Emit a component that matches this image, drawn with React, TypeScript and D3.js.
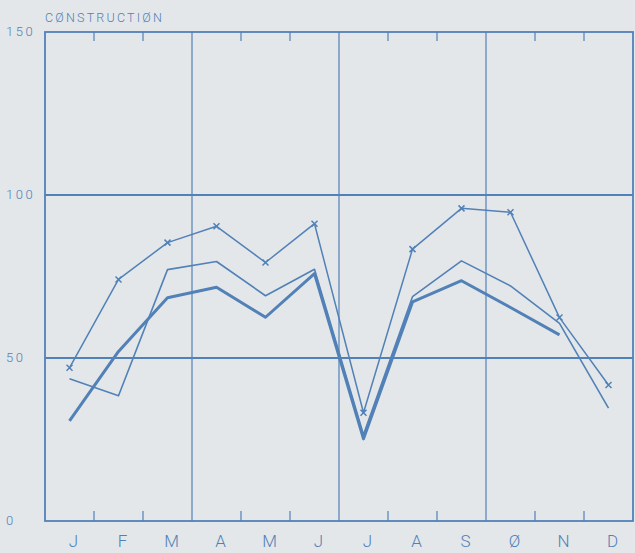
import React from "react";
import * as d3 from "d3";

const months = ["J", "F", "M", "A", "M", "J", "J", "A", "S", "Ø", "N", "D"];
const yTicks = [0, 50, 100, 150];
const seriesMarked = [47.0, 74.1, 85.4, 90.4, 79.3, 91.2, 33.2, 83.4, 95.9, 94.7, 62.4, 41.7];
const seriesThin = [43.6, 38.4, 77.1, 79.6, 69.1, 77.2, 26.5, 68.8, 79.8, 72.1, 60.6, 34.6];
const seriesThick: (number | null)[] = [30.7, 52.0, 68.5, 71.7, 62.5, 75.9, 25.2, 67.2, 73.7, 65.5, 57.1, null];
const title = "CØNSTRUCTIØN";

const W = 635;
const H = 553;
const L = 45, R = 633, T = 32, B = 521;
const COL = "#5281b7";
const BG = "#e3e7ea";

export default function App() {
  const x = d3.scaleBand<number>().domain(d3.range(12)).range([L, R]);
  const y = d3.scaleLinear().domain([0, 150]).range([B, T]);
  const cx = (i: number) => (x(i) as number) + x.bandwidth() / 2;
  const line = d3
    .line<number | null>()
    .defined((d) => d != null)
    .x((_, i) => cx(i))
    .y((d) => y(d as number));
  const quarters = [3, 6, 9];
  const font = "Roboto, 'DejaVu Sans', sans-serif";
  return (
    <svg
      width={W}
      height={H}
      style={{ position: "absolute", left: 0, top: 0, display: "block" }}
    >
      <rect x={0} y={0} width={W} height={H} fill={BG} />
      <text x={L} y={22} fontFamily={font} fontWeight={300} fontSize={12.5} fill={COL} letterSpacing={2.2}>
        {title}
      </text>
      {yTicks.map((t) => (
        <text key={t} x={6} y={y(t) + 4} fontFamily={font} fontWeight={300} fontSize={13} fill={COL} letterSpacing={2.5}>
          {t}
        </text>
      ))}
      {[50, 100].map((t) => (
        <line key={t} x1={L} x2={R} y1={y(t)} y2={y(t)} stroke={COL} strokeWidth={1.8} />
      ))}
      {quarters.map((q) => (
        <line key={q} x1={x(q) as number} x2={x(q) as number} y1={T} y2={B} stroke={COL} strokeWidth={1.2} />
      ))}
      {d3.range(1, 12).filter((i) => !quarters.includes(i)).map((i) => (
        <g key={i}>
          <line x1={x(i) as number} x2={x(i) as number} y1={T} y2={T + 9} stroke={COL} strokeWidth={1.2} />
          <line x1={x(i) as number} x2={x(i) as number} y1={B} y2={B - 10} stroke={COL} strokeWidth={1.2} />
        </g>
      ))}
      <rect x={L} y={T} width={R - L} height={B - T} fill="none" stroke={COL} strokeWidth={1.8} />
      {months.map((m, i) => (
        <text key={i} x={cx(i) + 4} y={547} textAnchor="middle" fontFamily={font} fontWeight={300} fontSize={17} fill={COL}>
          {m}
        </text>
      ))}
      <path d={line(seriesThin) || ""} fill="none" stroke={COL} strokeWidth={1.6} strokeLinejoin="round" />
      <path d={line(seriesThick) || ""} fill="none" stroke={COL} strokeWidth={3} strokeLinejoin="round" />
      <path d={line(seriesMarked) || ""} fill="none" stroke={COL} strokeWidth={1.5} strokeLinejoin="round" />
      {seriesMarked.map((v, i) => (
        <path
          key={i}
          d={`M${cx(i) - 3},${y(v) - 3}L${cx(i) + 3},${y(v) + 3}M${cx(i) - 3},${y(v) + 3}L${cx(i) + 3},${y(v) - 3}`}
          stroke={COL}
          strokeWidth={1.5}
        />
      ))}
    </svg>
  );
}
